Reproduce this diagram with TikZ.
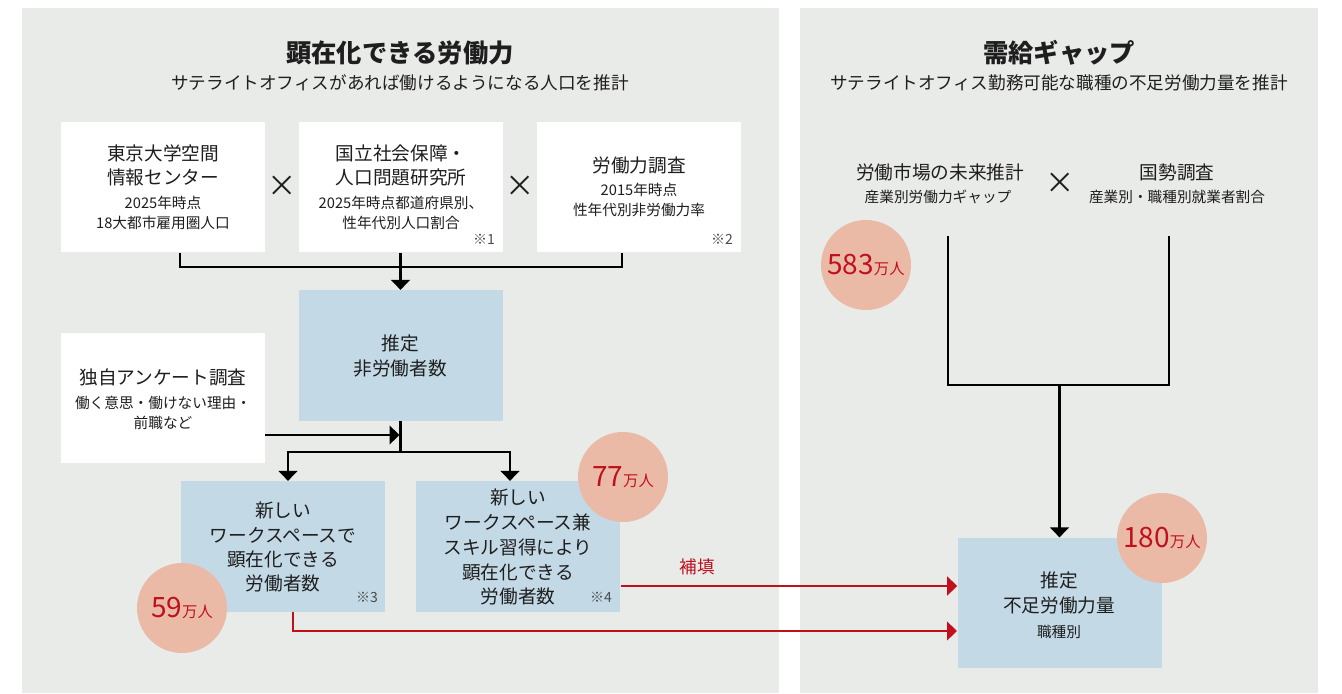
\documentclass[tikz,border=0pt]{standalone}
\usepackage{fontspec}
\setmainfont{Noto Sans CJK JP}
\usetikzlibrary{arrows.meta}
\definecolor{panelgray}{HTML}{E9EBE8}
\definecolor{boxblue}{HTML}{C3D9E6}
\definecolor{circfill}{HTML}{EBBAA6}
\definecolor{redc}{HTML}{C0101E}
\definecolor{txt}{HTML}{1E1E1E}
\newcommand\fmain{\fontsize{14}{16}\selectfont}
\newcommand\fsub{\fontsize{11}{13}\selectfont}
\newcommand\ftitle{\fontsize{19}{22}\selectfont\bfseries}
\newcommand\fsubt{\fontsize{13.2}{15}\selectfont}
\newcommand\fnum{\fontsize{21}{24}\selectfont}
\newcommand\fman{\fontsize{11.5}{13}\selectfont}
\newcommand\fnote{\fontsize{10.5}{12}\selectfont}
\tikzset{
  wbox/.style={rectangle, fill=white, minimum width=153pt, minimum height=98pt, inner sep=0pt},
  bbox/.style={rectangle, fill=boxblue, minimum width=153pt, minimum height=98pt, inner sep=0pt},
  mt/.style={font=\fmain, text=txt, inner sep=0pt},
  st/.style={font=\fsub, text=txt, inner sep=0pt},
  nt/.style={font=\fnote, text=txt!80, inner sep=0pt},
  ttl/.style={font=\ftitle, text=txt, inner sep=0pt},
  sttl/.style={font=\fsubt, text=txt, inner sep=0pt},
  crs/.style={font=\fontsize{22}{22}\selectfont, text=txt, inner sep=0pt},
  circ/.style={circle, fill=circfill, minimum size=67.5pt, inner sep=0pt, text=redc},
  conn/.style={line width=1.6pt, draw=black},
  arr/.style={conn, -{Triangle[width=14pt,length=7.5pt]}},
  rarr/.style={line width=1.6pt, draw=redc, -{Triangle[width=14pt,length=7.5pt]}},
}
\begin{document}
\begin{tikzpicture}[x=0.75pt,y=-0.75pt]
\useasboundingbox (0,0) rectangle (1342,693);
\fill[white] (0,0) rectangle (1342,693);
% panels
\fill[panelgray] (22,8) rectangle (779,693);
\fill[panelgray] (800,8) rectangle (1318,693);

% titles
\node[ttl] (t1) at (400,53) {顕在化できる労働力};
\node[sttl] (s1) at (400,83) {サテライトオフィスがあれば働けるようになる人口を推計};
\node[ttl] (t2) at (1059,53) {需給ギャップ};
\node[sttl] (s2) at (1059,83) {サテライトオフィス勤務可能な職種の不足労働力量を推計};

% top boxes
\node[wbox] (A) at (163,187) {};
\node[wbox] (B) at (400.5,187) {};
\node[wbox] (C) at (639,187) {};
\node[mt] (a1) at (163,153) {東京大学空間};
\node[mt] (a2) at (163,177) {情報センター};
\node[st] (a3) at (163,203) {2025年時点};
\node[st] (a4) at (163,223) {18大都市雇用圏人口};
\node[mt] (b1) at (401,153) {国立社会保障・};
\node[mt] (b2) at (401,177) {人口問題研究所};
\node[st] (b3) at (401,203) {2025年時点都道府県別、};
\node[st] (b4) at (401,223) {性年代別人口割合};
\node[nt] (b5) at (484,239) {※1};
\node[mt] (c1) at (639,165) {労働力調査};
\node[st] (c2) at (639,190) {2015年時点};
\node[st] (c3) at (639,210) {性年代別非労働力率};
\node[nt] (c5) at (722,239) {※2};
\node[crs] (x1) at (282,186) {×};
\node[crs] (x2) at (520,186) {×};

% estimate box
\node[bbox] (D) at (400.5,355.5) {};
\node[mt] (d1) at (400,343) {推定};
\node[mt] (d2) at (400,368) {非労働者数};

% survey box
\node[wbox] (E) at (163,398) {};
\node[mt] (e1) at (163,377) {独自アンケート調査};
\node[st] (e2) at (163,403) {働く意思・働けない理由・};
\node[st] (e3) at (163,423) {前職など};

% lower boxes
\node[bbox] (F) at (283,546.5) {};
\node[mt] (f1) at (283,510) {新しい};
\node[mt] (f2) at (283,535) {ワークスペースで};
\node[mt] (f3) at (283,559) {顕在化できる};
\node[mt] (f4) at (283,583) {労働者数};
\node[nt] (f5) at (367,597) {※3};
\node[bbox] (G) at (518,546.5) {};
\node[mt] (g1) at (518,497) {新しい};
\node[mt] (g2) at (518,522) {ワークスペース兼};
\node[mt] (g3) at (518,547) {スキル習得により};
\node[mt] (g4) at (518,572) {顕在化できる};
\node[mt] (g5) at (518,596) {労働者数};
\node[nt] (g6) at (601,597) {※4};

% right side
\node[mt] (r1) at (940,172) {労働市場の未来推計};
\node[st] (r1s) at (938,197) {産業別労働力ギャップ};
\node[crs] (x3) at (1060,183) {×};
\node[mt] (r2) at (1177,172) {国勢調査};
\node[st] (r2s) at (1177,197) {産業別・職種別就業者割合};
\node[bbox] (H) at (1059.5,603) {};
\node[mt] (h1) at (1059,580) {推定};
\node[mt] (h2) at (1059,605) {不足労働力量};
\node[st] (h3) at (1059,632) {職種別};

% connectors left
\coordinate (j1) at (400.5,267);
\draw[conn] ([xshift=12.75pt]A.south) |- (j1) -| ([xshift=-12.75pt]C.south);
\draw[arr] (B.south) -- (D.north);
\coordinate (j2) at (400.5,452);
\coordinate (e4) at (399.5,435);
\draw[conn] (D.south) -- (j2);
\draw[arr] (E.east |- e4) -- (e4);
\draw[arr] (j2) -| ([xshift=3.75pt]F.north);
\draw[arr] (j2) -| ([xshift=-6pt]G.north);

% connectors right
\coordinate (q1) at (948,236);
\coordinate (q2) at (1169,236);
\coordinate (j3) at (1059.5,385);
\draw[conn] (q1) |- (j3) -| (q2);
\draw[arr] (j3) -- (H.north);

% red connectors
\coordinate (g7) at (621,586);
\coordinate (h4) at (957,631);
\draw[rarr] (g7) -- (g7 -| H.west);
\draw[rarr] ([xshift=7.5pt]F.south) |- (h4);
\node[font=\fsubt, text=redc, inner sep=0pt] (hoten) at (697,567) {補填};

% circles
\node[circ] (c77) at (623,477) {{\fnum 77}{\fman 万人}};
\node[circ] (c59) at (182,608) {{\fnum 59}{\fman 万人}};
\node[circ] (c583) at (866,265) {{\fnum 583}{\fman 万人}};
\node[circ] (c180) at (1162,538) {{\fnum 180}{\fman 万人}};
\end{tikzpicture}
\end{document}
